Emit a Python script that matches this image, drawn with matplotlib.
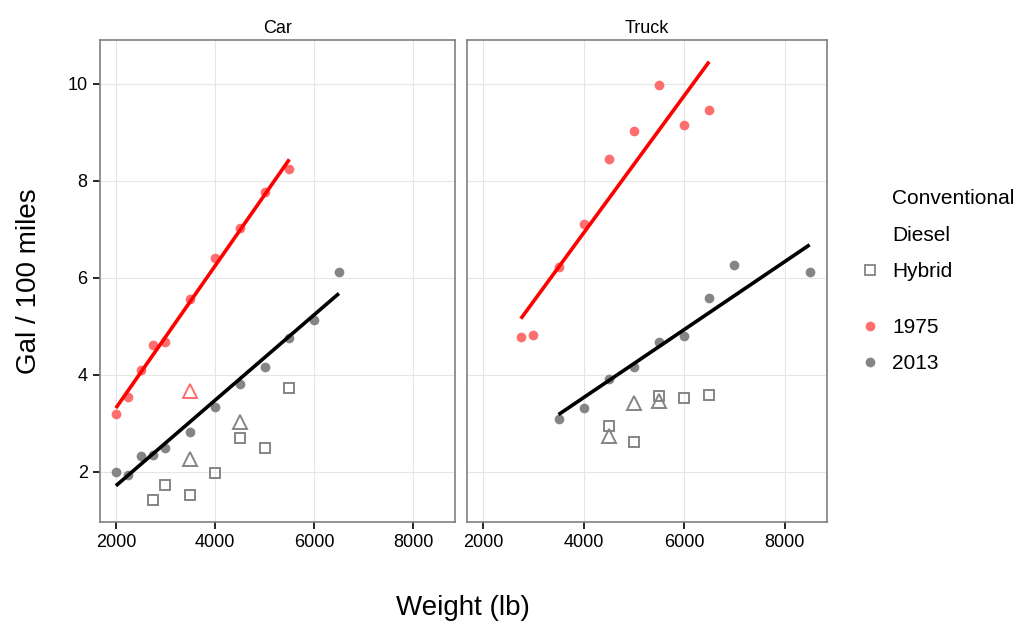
import numpy as np
import matplotlib
matplotlib.use('Agg')
import matplotlib.pyplot as plt
from matplotlib.lines import Line2D

plt.rcParams['font.family'] = ['Liberation Sans', 'DejaVu Sans']

# Car, 1975, conventional
car75_x = [2000, 2250, 2500, 2750, 3000, 3500, 4000, 4500, 5000, 5500]
car75_y = [3.19, 3.53, 4.10, 4.61, 4.67, 5.55, 6.41, 7.02, 7.76, 8.23]
# Car, 1975, diesel
car75d_x = [3500]
car75d_y = [3.67]
# Car, 2013, conventional
car13_x = [2000, 2250, 2500, 2750, 3000, 3500, 4000, 4500, 5000, 5500, 6000, 6500]
car13_y = [2.00, 1.92, 2.32, 2.35, 2.49, 2.81, 3.33, 3.81, 4.16, 4.76, 5.12, 6.12]
# Car, 2013, diesel
car13d_x = [3500, 4500]
car13d_y = [2.25, 3.02]
# Car, 2013, hybrid
car13h_x = [2750, 3000, 3500, 4000, 4500, 5000, 5500]
car13h_y = [1.41, 1.73, 1.51, 1.97, 2.70, 2.49, 3.72]

# Truck, 1975, conventional
tr75_x = [2750, 3000, 3500, 4000, 4500, 5000, 5500, 6000, 6500]
tr75_y = [4.77, 4.82, 6.22, 7.11, 8.45, 9.03, 9.98, 9.15, 9.46]
# Truck, 2013, conventional
tr13_x = [3500, 4000, 4500, 5000, 5500, 6000, 6500, 7000, 8500]
tr13_y = [3.09, 3.31, 3.90, 4.16, 4.68, 4.80, 5.57, 6.25, 6.12]
# Truck, 2013, diesel
tr13d_x = [4500, 5000, 5500]
tr13d_y = [2.74, 3.42, 3.45]
# Truck, 2013, hybrid
tr13h_x = [4500, 5000, 5500, 6000, 6500]
tr13h_y = [2.93, 2.60, 3.55, 3.51, 3.57]

c75 = '#ff6e6e'
c13 = '#858585'

fig = plt.figure(figsize=(10.21, 6.24), dpi=100)
ax1 = fig.add_axes([0.0975, 0.1635, 0.348, 0.7724])
ax2 = fig.add_axes([0.457, 0.1635, 0.3527, 0.7724])


def fit_line(ax, x, y, color):
    x = np.array(x, dtype=float)
    y = np.array(y, dtype=float)
    k, b = np.polyfit(x, y, 1)
    xs = np.array([x.min(), x.max()])
    ax.plot(xs, k * xs + b, color=color, lw=2.6, zorder=4, solid_capstyle='butt')


panels = [
    (ax1, 'Car', car75_x, car75_y, car75d_x, car75d_y, car13_x, car13_y,
     car13d_x, car13d_y, car13h_x, car13h_y),
    (ax2, 'Truck', tr75_x, tr75_y, [], [], tr13_x, tr13_y,
     tr13d_x, tr13d_y, tr13h_x, tr13h_y),
]

for ax, title, x75, y75, x75d, y75d, x13, y13, x13d, y13d, x13h, y13h in panels:
    ax.plot(x75, y75, 'o', color=c75, ms=7, mec='none', zorder=3)
    ax.plot(x13, y13, 'o', color=c13, ms=7, mec='none', zorder=3)
    if x75d:
        ax.plot(x75d, y75d, '^', mfc='none', mec=c75, ms=10, mew=1.4, zorder=3)
    ax.plot(x13d, y13d, '^', mfc='none', mec=c13, ms=10, mew=1.4, zorder=3)
    ax.plot(x13h, y13h, 's', mfc='none', mec=c13, ms=7.5, mew=1.4, zorder=3)
    fit_line(ax, x75, y75, '#ff0000')
    fit_line(ax, x13, y13, 'black')

    ax.set_xlim(1670, 8840)
    ax.set_ylim(0.96, 10.9)
    ax.set_xticks([2000, 4000, 6000, 8000])
    ax.set_yticks([2, 4, 6, 8, 10])
    ax.grid(True, color='#e6e6e6', lw=0.8, zorder=0)
    ax.set_axisbelow(True)
    for s in ax.spines.values():
        s.set_color('#808080')
        s.set_linewidth(1.2)
    ax.tick_params(axis='both', labelsize=13, length=5, width=1.2, color='black')
    ax.set_title(title, fontsize=13, pad=5)

ax2.tick_params(axis='y', left=False, labelleft=False)

fig.text(0.028, 0.55, 'Gal / 100 miles', rotation=90, fontsize=20, ha='center', va='center')
fig.text(0.453, 0.025, 'Weight (lb)', fontsize=20, ha='center', va='center')

shape_handles = [
    Line2D([], [], linestyle='', marker=''),
    Line2D([], [], linestyle='', marker=''),
    Line2D([], [], linestyle='', marker='s', mfc='none', mec=c13, ms=7, mew=1.3),
]
leg1 = fig.legend(shape_handles, ['Conventional', 'Diesel', 'Hybrid'],
                  loc='upper left', bbox_to_anchor=(860 / 1021, 1 - 189 / 624),
                  frameon=False, fontsize=15, handlelength=1.0, handletextpad=0.54,
                  labelspacing=0.85, borderpad=0, borderaxespad=0)
color_handles = [
    Line2D([], [], linestyle='', marker='o', color=c75, ms=7, mec='none'),
    Line2D([], [], linestyle='', marker='o', color=c13, ms=7, mec='none'),
]
leg2 = fig.legend(color_handles, ['1975', '2013'],
                  loc='upper left', bbox_to_anchor=(860 / 1021, 1 - 318 / 624),
                  frameon=False, fontsize=15, handlelength=1.0, handletextpad=0.54,
                  labelspacing=0.82, borderpad=0, borderaxespad=0)

fig.savefig('out.png', dpi=100)
